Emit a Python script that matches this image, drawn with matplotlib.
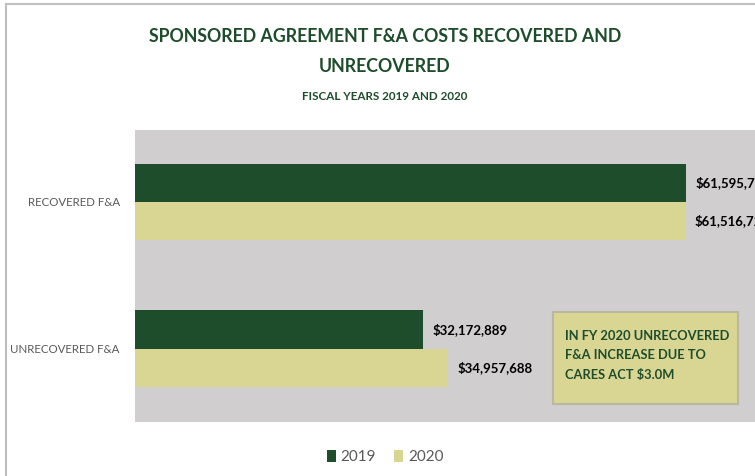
import matplotlib
matplotlib.use("Agg")
import matplotlib.pyplot as plt
from matplotlib.patches import Rectangle

plt.rcParams["font.family"] = ["Lato", "DejaVu Sans"]

categories = ["RECOVERED F&A", "UNRECOVERED F&A"]
years = ["2019", "2020"]
values_2019 = [61595790, 32172889]
values_2020 = [61516720, 34957688]
labels_2019 = ["$61,595,790", "$32,172,889"]
labels_2020 = ["$61,516,720", "$34,957,688"]

dark_green = "#1E4D2B"
khaki = "#D9D694"
gray_bg = "#D0CECE"

W, H = 755, 476
fig = plt.figure(figsize=(W / 100, H / 100), dpi=100)

# outer frame lines (chart is cropped on the right and bottom)
fig.add_artist(plt.Line2D([6 / W, 6 / W], [0, 1 - 4 / H], color="#BFBFBF", lw=1.5))
fig.add_artist(plt.Line2D([6 / W, 1], [1 - 4 / H, 1 - 4 / H], color="#BFBFBF", lw=1.5))

ax = fig.add_axes([135 / W, 1 - 422 / H, (760 - 135) / W, (422 - 130) / H])
ax.set_facecolor(gray_bg)
for s in ax.spines.values():
    s.set_visible(False)

y = [0, 1]
h = 0.26
ax.barh([p - h / 2 for p in y], values_2019, height=h, color=dark_green, label=years[0])
ax.barh([p + h / 2 for p in y], values_2020, height=h, color=khaki, label=years[1])

gap = 1.1e6
for p, v, t in zip(y, values_2019, labels_2019):
    ax.text(v + gap, p - h / 2, t, va="center", ha="left", fontsize=9.5,
            fontweight="bold", color="black", clip_on=False)
for p, v, t in zip(y, values_2020, labels_2020):
    ax.text(v + gap, p + h / 2, t, va="center", ha="left", fontsize=9.5,
            fontweight="bold", color="black", clip_on=False)

ax.set_xlim(0, 69.9e6)
ax.set_ylim(1.5, -0.49)
ax.set_xticks([])
ax.set_yticks(y)
ax.set_yticklabels(categories, fontsize=8.3, color="#595959")
ax.tick_params(axis="y", length=0, pad=11)

# annotation box
fig.add_artist(Rectangle((553 / W, 1 - 404 / H), (738 - 553) / W, (404 - 312) / H,
                         transform=fig.transFigure, facecolor=khaki,
                         edgecolor="#B8B8A0", lw=1.5))
fig.text(565 / W, 1 - 355 / H,
         "IN FY 2020 UNRECOVERED\nF&A INCREASE DUE TO\nCARES ACT $3.0M",
         ha="left", va="center", fontsize=9.3, fontweight="bold", color=dark_green,
         linespacing=1.75)

fig.text(385 / W, 1 - 37 / H, "SPONSORED AGREEMENT F&A COSTS RECOVERED AND",
         ha="center", va="center", fontsize=12.8, fontweight="bold", color=dark_green)
fig.text(385 / W, 1 - 67 / H, "UNRECOVERED",
         ha="center", va="center", fontsize=12.8, fontweight="bold", color=dark_green)
fig.text(385 / W, 1 - 97 / H, "FISCAL YEARS 2019 AND 2020",
         ha="center", va="center", fontsize=8.4, fontweight="bold", color=dark_green)

leg = fig.legend(loc="center", bbox_to_anchor=(385 / W, 1 - 457 / H), ncol=2, frameon=False,
                 fontsize=11, handlelength=0.6, handleheight=0.9, handletextpad=0.3,
                 columnspacing=1.2)
for t in leg.get_texts():
    t.set_color("#595959")

fig.savefig("out.png", dpi=100)
